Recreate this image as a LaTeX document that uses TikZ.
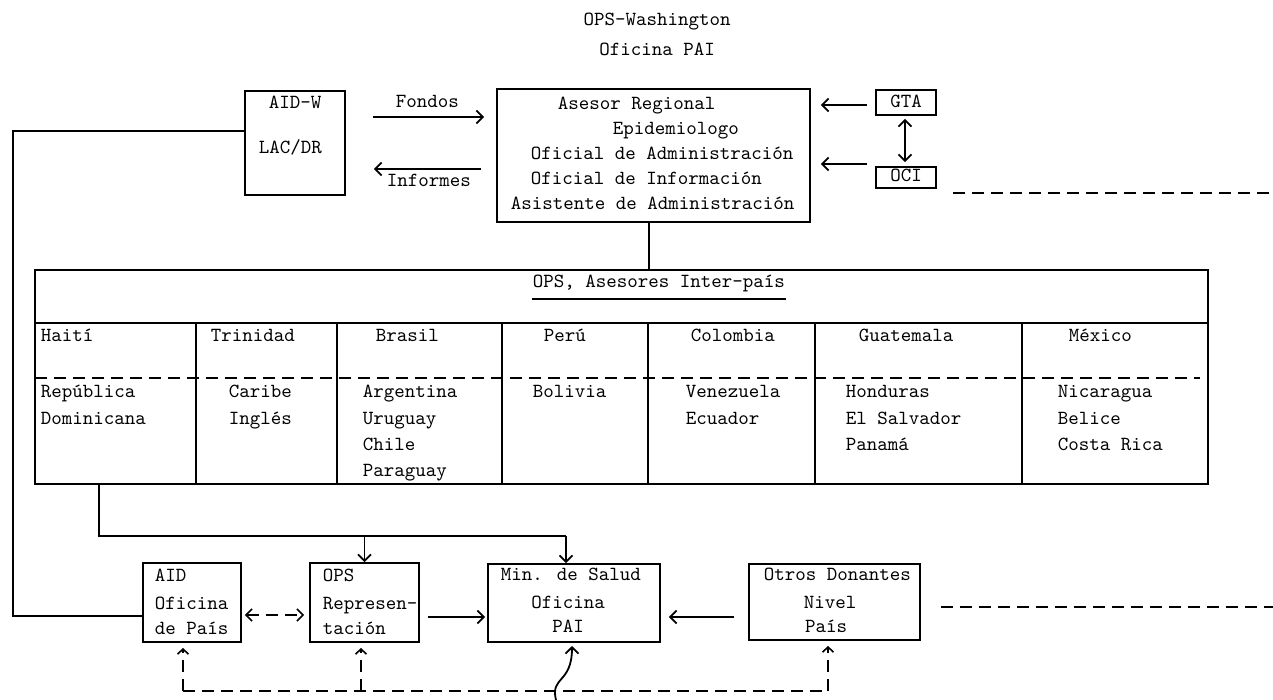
\documentclass[tikz,border=0pt]{standalone}
\usetikzlibrary{arrows.meta,fit,calc}
\begin{document}
\begin{tikzpicture}[x=0.5pt,y=-0.5pt,
  line width=0.9pt,
  lbl/.style={font=\ttfamily\fontsize{10}{12}\selectfont, inner sep=0pt, anchor=base west},
  clbl/.style={lbl, anchor=base},
  box/.style={draw, line width=0.9pt, inner sep=0pt, fit={#1}},
  arr/.style={-{Straight Barb[length=3.2pt,width=6.5pt]}, line width=0.9pt},
  darr/.style={{Straight Barb[length=3.2pt,width=6.5pt]}-{Straight Barb[length=3.2pt,width=6.5pt]}, line width=0.9pt},
  dline/.style={dash pattern=on 6pt off 3.5pt, line width=0.8pt},
  dsarr/.style={dline, -{Straight Barb[length=2.6pt,width=5.5pt]}},
  dsdarr/.style={dline, {Straight Barb[length=3pt,width=6pt]}-{Straight Barb[length=3pt,width=6pt]}}
]
\useasboundingbox (0,0) rectangle (1273,700);

% title
\node[clbl] (t1) at (657,26) {OPS-Washington};
\node[clbl] (t2) at (657,56) {Oficina PAI};

% AID-W
\node[box={(245,91)(345,195)}] (aidw) {};
\node[lbl] (aidw1) at (268,109) {AID-W};
\node[lbl] (aidw2) at (258,154) {LAC/DR};

% central box
\node[box={(497,89)(810,222)}] (cen) {};
\node[lbl] (c1) at (557,110) {Asesor Regional};
\node[lbl] (c2) at (612,135) {Epidemiologo};
\node[lbl] (c3) at (530,160) {Oficial de Administración};
\node[lbl] (c4) at (530,185) {Oficial de Información};
\node[lbl] (c5) at (510,210) {Asistente de Administración};

% Fondos / Informes
\node[lbl] (fon) at (395,108) {Fondos};
\node[lbl] (inf) at (386,187) {Informes};
\draw[arr, shorten <=13.5pt, shorten >=6pt] (aidw.east |- 0,117) -- (cen.west |- 0,117);
\draw[arr, shorten <=7.5pt, shorten >=14pt] (cen.west |- 0,169) -- (aidw.east |- 0,169);

% GTA / OCI
\node[box={(876,90)(936,115)}] (gta) {};
\node[clbl] (gtat) at (906,108) {GTA};
\node[box={(876,167)(936,188)}] (oci) {};
\node[clbl] (ocit) at (906,182) {OCI};
\draw[arr, shorten <=4pt, shorten >=5pt] (gta.west |- 0,105) -- (cen.east |- 0,105);
\draw[arr, shorten <=4pt, shorten >=5pt] (oci.west |- 0,164) -- (cen.east |- 0,164);
\draw[darr, shorten <=1.5pt, shorten >=2pt] ([xshift=-0.5pt]gta.south) -- ([xshift=-0.5pt]oci.north);
\coordinate (oe) at (1273,193);
\draw[dline, shorten <=8pt] (oci.east |- oe) -- (oe);

% table
\node[box={(35,270)(1208,484)}] (tab) {};
\draw ([xshift=-2.25pt]cen.south) -- ([xshift=-2.25pt]cen.south |- tab.north);
\coordinate (r1) at (35,323);
\draw (r1) -- (r1 -| tab.east);
\draw[dline] (35,378) -- (1200,378);
\foreach \xx in {196,337,502,648,815,1022} { \draw (\xx,323) -- (\xx,484); }
\node[lbl] (hdr) at (532,287) {OPS, Asesores Inter-país};
\draw ([yshift=-6pt]hdr.base west) -- ([yshift=-6pt]hdr.base east);

\node[lbl] (h1) at (40,341) {Haití};
\node[lbl] (h2) at (210,341) {Trinidad};
\node[lbl] (h3) at (375,341) {Brasil};
\node[lbl] (h4) at (543,341) {Perú};
\node[lbl] (h5) at (690,341) {Colombia};
\node[lbl] (h6) at (858,341) {Guatemala};
\node[lbl] (h7) at (1068,341) {México};

\node[lbl] (a1) at (40,397) {República};
\node[lbl] (a2) at (40,424) {Dominicana};
\node[lbl] (b1) at (228,397) {Caribe};
\node[lbl] (b2) at (228,424) {Inglés};
\node[lbl] (c6) at (362,397) {Argentina};
\node[lbl] (c7) at (362,424) {Uruguay};
\node[lbl] (c8) at (362,450) {Chile};
\node[lbl] (c9) at (362,476) {Paraguay};
\node[lbl] (d1t) at (532,397) {Bolivia};
\node[lbl] (e1) at (685,397) {Venezuela};
\node[lbl] (e2) at (685,424) {Ecuador};
\node[lbl] (f1) at (845,397) {Honduras};
\node[lbl] (f2) at (845,424) {El Salvador};
\node[lbl] (f3) at (845,450) {Panamá};
\node[lbl] (g1) at (1057,397) {Nicaragua};
\node[lbl] (g2) at (1057,424) {Belice};
\node[lbl] (g3) at (1057,450) {Costa Rica};

% bottom boxes
\node[box={(143,563)(241,642)}] (aid) {};
\node[lbl] (aid1) at (154,581) {AID};
\node[lbl] (aid2) at (154,609) {Oficina};
\node[lbl] (aid3) at (154,634) {de País};

\node[box={(310,563)(419,642)}] (ops) {};
\node[lbl] (ops1) at (322,581) {OPS};
\node[lbl] (ops2) at (322,609) {Represen-};
\node[lbl] (ops3) at (322,634) {tación};

\node[box={(488,564)(660,642)}] (min) {};
\node[lbl] (min1) at (500,580) {Min. de Salud};
\node[clbl] (min2) at (568,608) {Oficina};
\node[clbl] (min3) at (568,632) {PAI};

\node[box={(749,564)(920,640)}] (otr) {};
\node[lbl] (otr1) at (763,580) {Otros Donantes};
\node[clbl] (otr2) at (830,608) {Nivel};
\node[clbl] (otr3) at (826,632) {País};

% Haiti connector
\coordinate (hai) at (99,484);
\coordinate (j1) at (99,536);
\coordinate (j2) at (566,536);
\draw (hai) -- (j1) -- (j2);
\draw[arr] (ops.north |- j1) -- (ops.north);
\draw[arr] (j2) -- (j2 |- min.north);

% left connector
\coordinate (lt) at (13,131);
\coordinate (lb) at (13,616);
\draw (aidw.west |- lt) -- (lt) -- (lb) -- (lb -| aid.west);

% bottom row arrows
\draw[dsdarr, shorten <=1.5pt, shorten >=2.5pt] (aid.east |- 0,615) -- (ops.west |- 0,615);
\draw[arr, shorten <=4pt, shorten >=1pt] (ops.east |- 0,617) -- (min.west |- 0,617);
\draw[arr, shorten <=7pt, shorten >=4pt] (otr.west |- 0,617) -- (min.east |- 0,617);
\coordinate (oe2) at (1273,607);
\draw[dline, shorten <=10pt] (otr.east |- oe2) -- (oe2);

% bottom dashed network
\coordinate (d1) at (183,691);
\coordinate (d2) at (361,691);
\coordinate (d3) at (828,691);
\draw[dline] (d1) -- (d3);
\draw[dsarr, shorten >=2.5pt] (d1) -- (d1 |- aid.south);
\draw[dsarr, shorten >=2.5pt] (d2) -- (d2 |- ops.south);
\draw[dsarr, shorten >=2.5pt] (d3) -- (d3 |- otr.south);
\coordinate (cv) at (556,700);
\draw[arr, shorten >=2pt] (cv) .. controls (550,676) and (572,684) .. (572,642);
\end{tikzpicture}
\end{document}
